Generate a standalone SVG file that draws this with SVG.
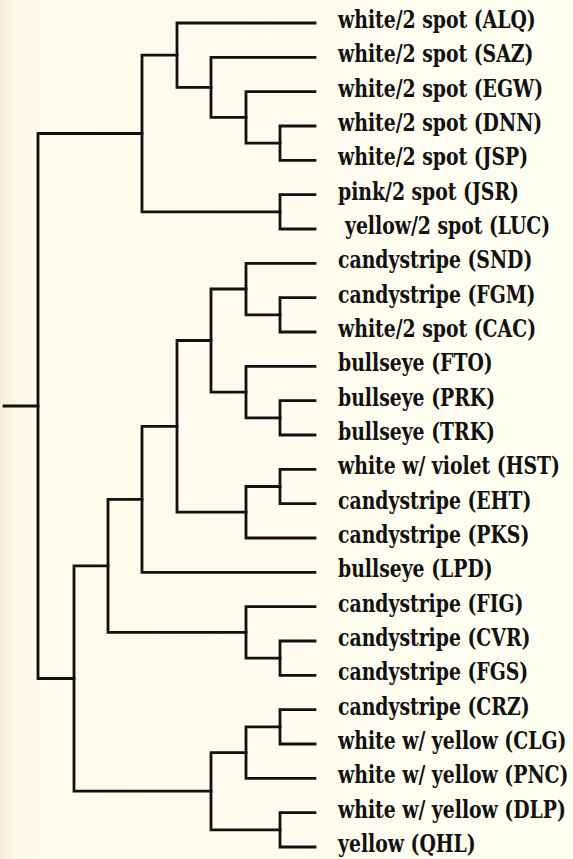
<svg xmlns="http://www.w3.org/2000/svg" width="573" height="859" viewBox="0 0 573 859">
<style>
.ln{fill:none;stroke:#111;stroke-width:2.8;stroke-linejoin:miter;stroke-linecap:square}
.lb{font-weight:bold;font-size:24px;fill:#111}
</style>
<defs>
<linearGradient id="bg" x1="0" y1="0" x2="1" y2="0">
<stop offset="0" stop-color="#F8EFD9"/>
<stop offset="0.04" stop-color="#FDFAEB"/>
<stop offset="1" stop-color="#FEFEF1"/>
</linearGradient>
</defs>
<rect width="573" height="859" fill="url(#bg)"/>
<g id="connectors" class="ln">
<path d="M4 406H38"/>
<path d="M142 133.5H38V678.5H74"/>
<path d="M177 55.2H142V211.9H280"/>
<path d="M315 23H177V87.4H211"/>
<path d="M315 57.3H211V117.4H246"/>
<path d="M315 91.7H246V143.2H280"/>
<path d="M315 126H280V160.3H315"/>
<path d="M315 194.7H280V229H315"/>
<path d="M108 565.9H74V791.2H211"/>
<path d="M142 499.4H108V632.4H246"/>
<path d="M177 426.4H142V572.3H315"/>
<path d="M211 340.5H177V512.2H246"/>
<path d="M246 289H211V392.1H246"/>
<path d="M315 263.3H246V314.8H280"/>
<path d="M315 297.7H280V332H315"/>
<path d="M315 366.3H246V417.9H280"/>
<path d="M315 400.7H280V435H315"/>
<path d="M280 486.5H246V538H315"/>
<path d="M315 469.3H280V503.7H315"/>
<path d="M315 606.7H246V658.2H280"/>
<path d="M315 641H280V675.3H315"/>
<path d="M246 752.6H211V829.8H280"/>
<path d="M280 726.8H246V778.3H315"/>
<path d="M315 709.7H280V744H315"/>
<path d="M315 812.7H280V847H315"/>
</g>
<g id="labels" class="lb" font-family="'DejaVu Serif Condensed', 'DejaVu Serif', serif" transform="translate(338 5) scale(0.872 1)">
<g id="ALQ"><text x="0" y="23">white/2 spot (ALQ)</text></g>
<g id="SAZ"><text x="0" y="57.3">white/2 spot (SAZ)</text></g>
<g id="EGW"><text x="0" y="91.7">white/2 spot (EGW)</text></g>
<g id="DNN"><text x="0" y="126">white/2 spot (DNN)</text></g>
<g id="JSP"><text x="0" y="160.3">white/2 spot (JSP)</text></g>
<g id="JSR"><text x="0" y="194.7">pink/2 spot (JSR)</text></g>
<g id="LUC"><text x="8" y="229">yellow/2 spot (LUC)</text></g>
<g id="SND"><text x="0" y="263.3">candystripe (SND)</text></g>
<g id="FGM"><text x="0" y="297.7">candystripe (FGM)</text></g>
<g id="CAC"><text x="0" y="332">white/2 spot (CAC)</text></g>
<g id="FTO"><text x="0" y="366.3">bullseye (FTO)</text></g>
<g id="PRK"><text x="0" y="400.7">bullseye (PRK)</text></g>
<g id="TRK"><text x="0" y="435">bullseye (TRK)</text></g>
<g id="HST"><text x="0" y="469.3">white w/ violet (HST)</text></g>
<g id="EHT"><text x="0" y="503.7">candystripe (EHT)</text></g>
<g id="PKS"><text x="0" y="538">candystripe (PKS)</text></g>
<g id="LPD"><text x="0" y="572.3">bullseye (LPD)</text></g>
<g id="FIG"><text x="0" y="606.7">candystripe (FIG)</text></g>
<g id="CVR"><text x="0" y="641">candystripe (CVR)</text></g>
<g id="FGS"><text x="0" y="675.3">candystripe (FGS)</text></g>
<g id="CRZ"><text x="0" y="709.7">candystripe (CRZ)</text></g>
<g id="CLG"><text x="0" y="744">white w/ yellow (CLG)</text></g>
<g id="PNC"><text x="0" y="778.3">white w/ yellow (PNC)</text></g>
<g id="DLP"><text x="0" y="812.7">white w/ yellow (DLP)</text></g>
<g id="QHL"><text x="0" y="847">yellow (QHL)</text></g>
</g>
</svg>
